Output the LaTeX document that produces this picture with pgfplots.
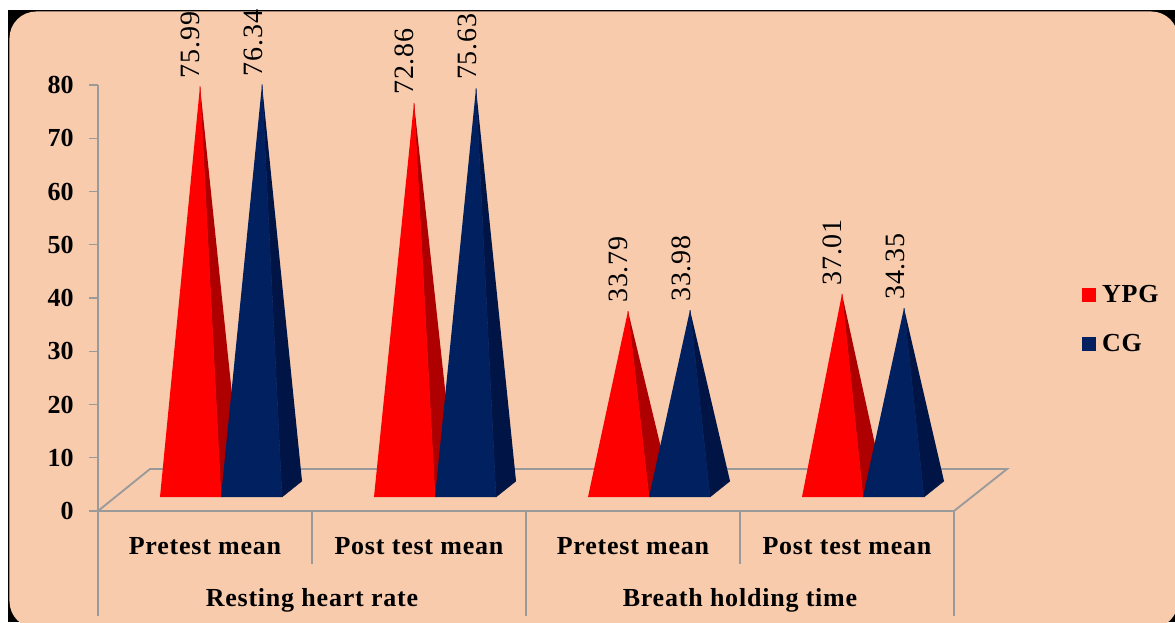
\documentclass[border=0pt]{standalone}
\usepackage{fontspec}
\setmainfont{Liberation Serif}
\usepackage{pgfplots}
\pgfplotsset{compat=1.18}
\definecolor{peach}{HTML}{F8CBAD}
\definecolor{navy}{HTML}{002060}
\definecolor{navyside}{HTML}{001545}
\definecolor{redside}{HTML}{AE0000}
\definecolor{axisgray}{HTML}{9A9A9A}
\newcommand{\boldfont}{\fontsize{19.5}{21}\selectfont\bfseries\addfontfeature{LetterSpace=3}}
\newcommand{\valfont}{\fontsize{21}{23}\selectfont\addfontfeature{LetterSpace=3}}
\begin{document}
\begin{tikzpicture}
% page background, in reference pixels
\begin{scope}[x=0.75pt,y=-0.75pt,shift={(-98,-511)}]
\useasboundingbox (0,0) rectangle (1175,622);
\fill[white] (0,0) rectangle (1175,622);
\fill[black] (8,10) rectangle (1175,622);
\fill[peach,rounded corners=20pt] (9.5,11.5) rectangle (1178,628);
\end{scope}
\begin{axis}[
	at={(0,0)},
	anchor=south west,
	scale only axis,
	width=642pt,
	height=319.5pt,
	xmin=-0.5, xmax=3.5,
	ymin=0, ymax=80,
	clip=false,
	axis x line*=bottom,
	axis y line*=left,
	axis line style={axisgray,line width=1.4pt,-},
	xtick={0,1,2,3},
	xticklabels={Pretest mean,Post test mean,Pretest mean,Post test mean},
	xtick style={draw=none},
	xticklabel style={font=\boldfont,yshift=-16pt},
	ytick={0,10,...,80},
	ytick style={axisgray,line width=1pt},
	ytick align=outside,
	tick pos=left,
	major tick length=6.75pt,
	yticklabel style={font=\boldfont\addfontfeature{LetterSpace=0},xshift=-8pt,/pgf/number format/assume math mode=true},
	legend style={at={(rel axis cs:1.145,0.543)},anchor=north west,draw=none,fill=none,
		font=\boldfont,row sep=18.5pt,cells={anchor=west}},
	empty line=jump,
]
% floor outline and the divider lines below the axis
\addplot[forget plot,axisgray,line width=1.4pt] coordinates {(-0.5,0) (-0.257,7.89) (3.748,7.89) (3.5,0)};
\addplot[forget plot,axisgray,line width=1pt] table {
x y
-0.5 0
-0.5 -19.7

0.5 0
0.5 -10

1.5 0
1.5 -19.7

2.5 0
2.5 -10

3.5 0
3.5 -19.7
};
% side faces, then front faces; apex height is the value plus the depth offset
\addplot[forget plot,draw=redside,line width=0.3pt,line join=round,fill=redside] table {
x y
-0.0234 79.75
0.0748 2.63
0.1682 5.63

0.9766 76.62
1.0748 2.63
1.1682 5.63

1.9766 37.55
2.0748 2.63
2.1682 5.63

2.9766 40.77
3.0748 2.63
3.1682 5.63
};
\addplot[forget plot,draw=red,line width=0.3pt,line join=round,fill=red] table {
x y
-0.2103 2.63
0.0748 2.63
-0.0234 79.75

0.7897 2.63
1.0748 2.63
0.9766 76.62

1.7897 2.63
2.0748 2.63
1.9766 37.55

2.7897 2.63
3.0748 2.63
2.9766 40.77
};
\addplot[forget plot,draw=navyside,line width=0.3pt,line join=round,fill=navyside] table {
x y
0.2664 80.10
0.3598 2.63
0.4533 5.63

1.2664 79.39
1.3598 2.63
1.4533 5.63

2.2664 37.74
2.3598 2.63
2.4533 5.63

3.2664 38.11
3.3598 2.63
3.4533 5.63
};
\addplot[forget plot,draw=navy,line width=0.3pt,line join=round,fill=navy] table {
x y
0.0748 2.63
0.3598 2.63
0.2664 80.10

1.0748 2.63
1.3598 2.63
1.2664 79.39

2.0748 2.63
2.3598 2.63
2.2664 37.74

3.0748 2.63
3.3598 2.63
3.2664 38.11
};
% value labels at the apexes
\addplot[forget plot,draw=none,mark=none,
	nodes near coords,point meta=explicit symbolic,
	every node near coord/.append style={rotate=90,anchor=base west,font=\valfont,
		text=black,inner xsep=0pt,inner ysep=0pt,xshift=6pt,yshift=0pt}]
	table[meta=label] {
x y label
-0.0234 79.75 75.99
0.2664 80.10 76.34
0.9766 76.62 72.86
1.2664 79.39 75.63
1.9766 37.55 33.79
2.2664 37.74 33.98
2.9766 40.77 37.01
3.2664 38.11 34.35
};
\node[font=\boldfont] at (axis cs:0.5,-16.7) {Resting heart rate};
\node[font=\boldfont] at (axis cs:2.5,-16.7) {Breath holding time};
\addlegendimage{only marks,mark=square*,mark size=4.9pt,red,mark options={draw=red,fill=red}}
\addlegendentry{\hspace{3pt}YPG}
\addlegendimage{only marks,mark=square*,mark size=4.9pt,navy,mark options={draw=navy,fill=navy}}
\addlegendentry{\hspace{3pt}CG}
\end{axis}
\end{tikzpicture}
\end{document}
